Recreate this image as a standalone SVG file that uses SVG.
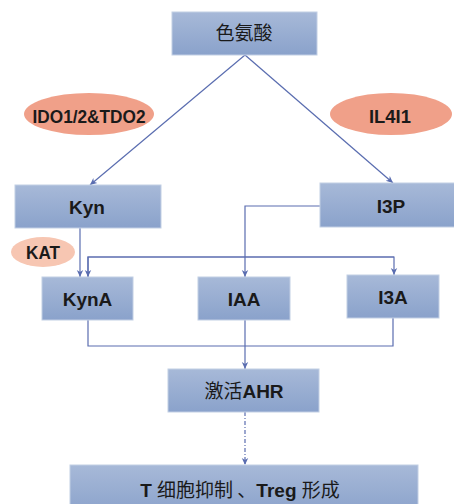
<svg xmlns="http://www.w3.org/2000/svg" width="454" height="504" viewBox="0 0 454 504">
<defs>
<linearGradient id="bg" x1="0" y1="0" x2="0" y2="1">
<stop offset="0" stop-color="#a7b9d8"/>
<stop offset="1" stop-color="#8aa2cb"/>
</linearGradient>
<marker id="ah" markerWidth="8" markerHeight="8" refX="7" refY="4" orient="auto" markerUnits="userSpaceOnUse">
<path d="M0,0.8 L7,4 L0,7.2 L2,4 Z" fill="#5a6db0"/>
</marker>
<style>
.box{fill:url(#bg);stroke:#c2cfe4;stroke-width:1}
.t{font-family:"Liberation Sans","Noto Sans CJK SC",sans-serif;font-size:19px;fill:#1a1a1a;text-anchor:middle}
.b{font-weight:bold}
.cn{font-family:"Noto Sans CJK SC",sans-serif;font-weight:normal}
.ln{fill:none;stroke:#5a6db0;stroke-width:1.2}
.ell{fill:#f0a089}
</style>
</defs>
<rect width="454" height="504" fill="#ffffff"/>
<g id="connectors">
<path class="ln" d="M245,55 L90,185" marker-end="url(#ah)"/>
<path class="ln" d="M245,55 L393,183" marker-end="url(#ah)"/>
<path class="ln" d="M80,228 L80,277" marker-end="url(#ah)"/>
<path class="ln" d="M88,277 L88,257 L394,257 L394,275" marker-end="url(#ah)"/>
<path class="ln" d="M394,257 L88,257 L88,277" marker-end="url(#ah)"/>
<path class="ln" d="M320,206 L245,206 L245,277" marker-end="url(#ah)"/>
<path class="ln" d="M88,320 L88,346 L393,346 L393,318"/>
<path class="ln" d="M245,320 L245,369" marker-end="url(#ah)"/>
<path class="ln" d="M245,412 L245,465" stroke-dasharray="4,2,1,2" marker-end="url(#ah)"/>
</g>
<g id="trp">
<rect class="box" x="172" y="12" width="145" height="43"/>
<text class="t cn" x="244" y="40">色氨酸</text>
</g>
<g id="ido">
<ellipse class="ell" cx="89" cy="114" rx="65" ry="21"/>
<text class="t b" x="89" y="122.5" font-size="24" textLength="113" lengthAdjust="spacingAndGlyphs">IDO1/2&amp;TDO2</text>
</g>
<g id="il4i1">
<ellipse class="ell" cx="391" cy="114" rx="61" ry="21"/>
<text class="t b" x="390" y="122.5" font-size="24" textLength="42" lengthAdjust="spacingAndGlyphs">IL4I1</text>
</g>
<g id="kyn">
<rect class="box" x="15" y="185" width="146" height="43"/>
<text class="t b" x="87" y="214" font-size="21">Kyn</text>
</g>
<g id="i3p">
<rect class="box" x="320" y="183" width="142" height="44"/>
<text class="t b" x="391" y="212.5" font-size="21">I3P</text>
</g>
<g id="kat">
<ellipse cx="43" cy="252" rx="32" ry="15" fill="#f7c6b2"/>
<text class="t b" x="43" y="259" font-size="20" textLength="34" lengthAdjust="spacingAndGlyphs">KAT</text>
</g>
<g id="kyna">
<rect class="box" x="42" y="277" width="91" height="43"/>
<text class="t b" x="87.5" y="306" font-size="21">KynA</text>
</g>
<g id="iaa">
<rect class="box" x="198" y="277" width="92" height="43"/>
<text class="t b" x="244" y="306" font-size="21">IAA</text>
</g>
<g id="i3a">
<rect class="box" x="347" y="275" width="92" height="43"/>
<text class="t b" x="393" y="304" font-size="21">I3A</text>
</g>
<g id="ahr">
<rect class="box" x="168" y="369" width="151" height="43"/>
<text class="t" x="244" y="398"><tspan class="cn">激活</tspan><tspan class="b">AHR</tspan></text>
</g>
<g id="tcell">
<rect class="box" x="70" y="465" width="348" height="50"/>
<text class="t" x="240" y="497"><tspan class="b">T </tspan><tspan class="cn">细胞抑制 、</tspan><tspan class="b">Treg </tspan><tspan class="cn">形成</tspan></text>
</g>
</svg>
